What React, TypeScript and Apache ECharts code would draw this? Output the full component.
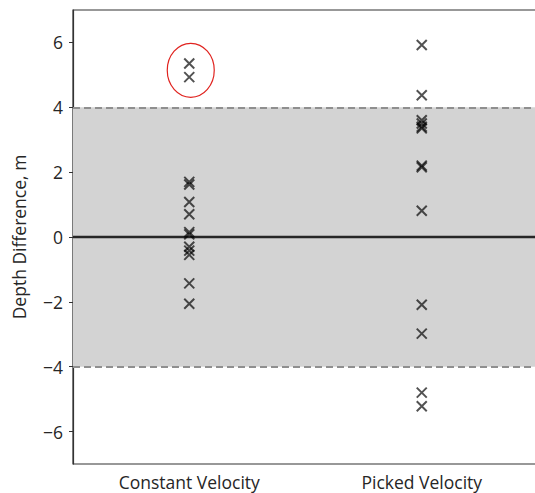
import React, { useEffect, useRef } from "react";
import * as echarts from "echarts";

const categories = ["Constant Velocity", "Picked Velocity"];
const constantVelocity = [5.35, 4.93, 1.7, 1.62, 1.08, 0.7, 0.15, 0.08, -0.3, -0.42, -0.55, -1.43, -2.06];
const pickedVelocity = [5.92, 4.37, 3.6, 3.5, 3.4, 3.35, 2.2, 2.15, 0.81, -2.09, -2.98, -4.8, -5.22];
const yTicks = [-6, -4, -2, 0, 2, 4, 6];
const bandLimit = 4;
const outliers = [5.35, 4.93];

const X_PATH = "path://M0,0L10,10M10,0L0,10";

export default function App() {
  const ref = useRef<HTMLDivElement>(null);
  useEffect(() => {
    if (!ref.current) return;
    const chart = echarts.init(ref.current, null, { renderer: "svg" });
    const pts: [string, number][] = [
      ...constantVelocity.map((v) => [categories[0], v] as [string, number]),
      ...pickedVelocity.map((v) => [categories[1], v] as [string, number]),
    ];
    const font = "Open Sans";
    const fs = 17.5;
    const txt = "#262626";
    chart.setOption({
      animation: false,
      grid: {
        left: 73,
        top: 10,
        width: 465,
        height: 454,
        show: true,
        borderColor: "#333333",
        borderWidth: 1.2,
        backgroundColor: "transparent",
      },
      xAxis: {
        type: "category",
        data: categories,
        boundaryGap: true,
        axisLine: { show: true, lineStyle: { color: "#333333", width: 1.2 } },
        axisTick: { show: true, alignWithLabel: true, length: 4, lineStyle: { color: "#333333" } },
        axisLabel: { color: txt, fontFamily: font, fontSize: fs, margin: 9 },
        splitLine: { show: false },
      },
      yAxis: {
        type: "value",
        min: -7,
        max: 7,
        name: "Depth Difference, m",
        nameLocation: "middle",
        nameGap: 45,
        nameTextStyle: { color: txt, fontFamily: font, fontSize: fs },
        axisLine: { show: true, lineStyle: { color: "#333333", width: 1.2 } },
        axisTick: { show: true, length: 4, customValues: yTicks, lineStyle: { color: "#333333" } },
        axisLabel: {
          color: txt,
          fontFamily: font,
          fontSize: fs,
          margin: 10,
          customValues: yTicks,
          formatter: (v: number) => (v < 0 ? "\u2212" + Math.abs(v) : String(v)),
        },
        splitLine: { show: false },
      },
      series: [
        {
          type: "scatter",
          data: pts,
          symbol: X_PATH,
          symbolSize: 10,
          itemStyle: { color: "none", borderColor: "rgba(0,0,0,0.85)", borderWidth: 2 },
          z: 5,
          markArea: {
            silent: true,
            itemStyle: { color: "#d3d3d3" },
            data: [[{ yAxis: -bandLimit }, { yAxis: bandLimit }]],
          },
          markLine: {
            silent: true,
            symbol: "none",
            label: { show: false },
            data: [
              { yAxis: bandLimit, lineStyle: { color: "#8f8f8f", type: [7, 4], width: 2 } },
              { yAxis: -bandLimit, lineStyle: { color: "#8f8f8f", type: [7, 4], width: 2 } },
              { yAxis: 0, lineStyle: { color: "#262626", type: "solid", width: 2.4 } },
            ],
          },
        },
      ],
    });
    const mid = (outliers[0] + outliers[1]) / 2;
    const c = chart.convertToPixel({ gridIndex: 0 }, [categories[0], mid]) as number[];
    chart.setOption({
      graphic: [
        {
          type: "ellipse",
          shape: { cx: c[0] + 1.5, cy: c[1], rx: 23.5, ry: 27 },
          style: { fill: "none", stroke: "#e0231f", lineWidth: 1.2 },
          z: 10,
        },
      ],
    });
    return () => chart.dispose();
  }, []);
  return (
    <div style={{ position: "absolute", left: 0, top: 0, width: 535, height: 493, overflow: "hidden" }}>
      <div ref={ref} style={{ width: 545, height: 493 }} />
    </div>
  );
}
